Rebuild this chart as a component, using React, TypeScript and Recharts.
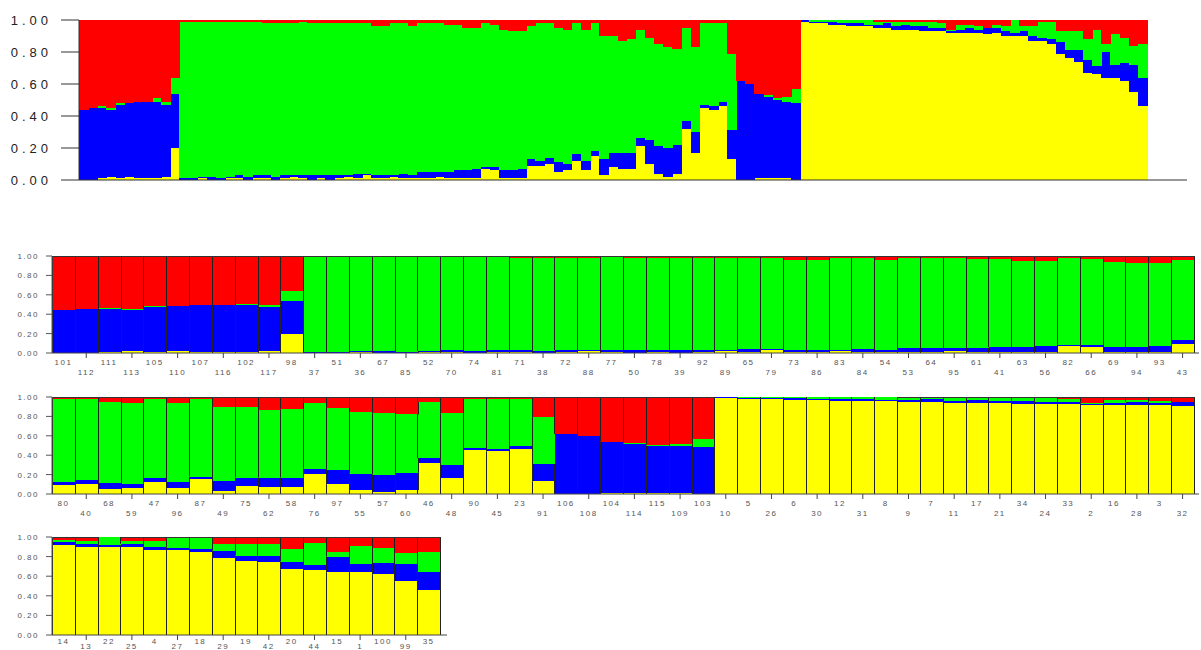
import React from "react";
import { BarChart, Bar, XAxis, YAxis } from "recharts";

// Individual labels, in plot order (top panel shows all, lower panels split 50 / 50 / 17)
const labels = [
  101, 112, 111, 113, 105, 110, 107, 116, 102, 117, 98, 37, 51, 36, 67, 85, 52, 70, 74, 81,
  71, 38, 72, 88, 77, 50, 78, 39, 92, 89, 65, 79, 73, 86, 83, 84, 54, 53, 64, 95,
  61, 41, 63, 56, 82, 66, 69, 94, 93, 43,
  80, 40, 68, 59, 47, 96, 87, 49, 75, 62, 58, 76, 97, 55, 57, 60, 46, 48, 90, 45,
  23, 91, 106, 108, 104, 114, 115, 109, 103, 10, 5, 26, 6, 30, 12, 31, 8, 9, 7, 11,
  17, 21, 34, 24, 33, 2, 16, 28, 3, 32,
  14, 13, 22, 25, 4, 27, 18, 29, 19, 42, 20, 44, 15, 1, 100, 99, 35,
];

// Cluster membership proportions (bottom to top: yellow, blue, green, red)
const yellow = [
  0, 0, 0.01, 0.02, 0.01, 0.02, 0.01, 0.01, 0.01, 0.02, 0.2, 0, 0, 0.01, 0, 0, 0.01, 0.01, 0, 0.01,
  0.01, 0, 0.01, 0.02, 0.01, 0, 0.01, 0, 0.01, 0.02, 0.01, 0.03, 0.01, 0.01, 0.02, 0.01, 0.01, 0.01, 0.01, 0.02,
  0.01, 0.01, 0.01, 0.01, 0.07, 0.06, 0.01, 0.01, 0.01, 0.09,
  0.09, 0.1, 0.05, 0.06, 0.12, 0.06, 0.15, 0.03, 0.08, 0.07, 0.07, 0.21, 0.1, 0.04, 0.02, 0.04, 0.32, 0.17, 0.45, 0.44,
  0.46, 0.13, 0, 0, 0.01, 0.01, 0.01, 0.01, 0, 0.99, 0.98, 0.98, 0.97, 0.97, 0.96, 0.96, 0.96, 0.95, 0.95, 0.94,
  0.94, 0.94, 0.93, 0.93, 0.93, 0.92, 0.92, 0.92, 0.92, 0.91,
  0.92, 0.9, 0.9, 0.9, 0.87, 0.87, 0.85, 0.79, 0.76, 0.74, 0.67, 0.66, 0.64, 0.64, 0.62, 0.55, 0.46,
];
const blue = [
  0.44, 0.45, 0.44, 0.42, 0.46, 0.46, 0.48, 0.48, 0.48, 0.45, 0.34, 0.01, 0.01, 0.01, 0.02, 0.01, 0.01, 0.02, 0.02, 0.02,
  0.02, 0.02, 0.02, 0.01, 0.02, 0.03, 0.02, 0.03, 0.02, 0.01, 0.03, 0.01, 0.02, 0.02, 0.01, 0.03, 0.02, 0.04, 0.04, 0.03,
  0.04, 0.05, 0.05, 0.06, 0.01, 0.02, 0.05, 0.05, 0.06, 0.04,
  0.03, 0.04, 0.06, 0.04, 0.04, 0.06, 0.03, 0.1, 0.09, 0.1, 0.1, 0.05, 0.15, 0.17, 0.18, 0.18, 0.05, 0.13, 0.02, 0.02,
  0.03, 0.18, 0.62, 0.6, 0.53, 0.51, 0.49, 0.48, 0.48, 0.01, 0.01, 0.01, 0.02, 0.01, 0.02, 0.02, 0.01, 0.02, 0.03, 0.02,
  0.03, 0.02, 0.03, 0.02, 0.02, 0.01, 0.02, 0.03, 0.02, 0.04,
  0.03, 0.03, 0.02, 0.03, 0.03, 0.02, 0.03, 0.07, 0.05, 0.07, 0.08, 0.05, 0.16, 0.08, 0.11, 0.17, 0.18,
];
const green = [
  0, 0, 0.01, 0.01, 0.01, 0, 0, 0, 0.02, 0.02, 0.1, 0.98, 0.98, 0.97, 0.97, 0.98, 0.97, 0.96, 0.97, 0.96,
  0.95, 0.96, 0.95, 0.95, 0.96, 0.95, 0.95, 0.95, 0.95, 0.95, 0.94, 0.94, 0.93, 0.93, 0.95, 0.94, 0.93, 0.93, 0.93, 0.93,
  0.92, 0.91, 0.89, 0.88, 0.9, 0.89, 0.88, 0.87, 0.86, 0.83,
  0.86, 0.84, 0.84, 0.84, 0.82, 0.82, 0.8, 0.77, 0.73, 0.7, 0.71, 0.68, 0.64, 0.64, 0.63, 0.6, 0.58, 0.53, 0.51, 0.52,
  0.49, 0.48, 0, 0, 0, 0.01, 0.01, 0.03, 0.09, 0, 0.01, 0.01, 0.01, 0.02, 0.02, 0.02, 0.03, 0.02, 0.01, 0.03,
  0.02, 0.03, 0.03, 0.04, 0.03, 0.01, 0.03, 0.02, 0.02, 0,
  0.02, 0.03, 0.08, 0.03, 0.06, 0.1, 0.11, 0.07, 0.12, 0.12, 0.13, 0.23, 0.05, 0.19, 0.16, 0.12, 0.21,
];
const red = [
  0.56, 0.55, 0.54, 0.55, 0.52, 0.52, 0.51, 0.51, 0.49, 0.51, 0.36, 0.01, 0.01, 0.01, 0.01, 0.01, 0.01, 0.01, 0.01, 0.01,
  0.02, 0.02, 0.02, 0.02, 0.01, 0.02, 0.02, 0.02, 0.02, 0.02, 0.02, 0.02, 0.04, 0.04, 0.02, 0.02, 0.04, 0.02, 0.02, 0.02,
  0.03, 0.03, 0.05, 0.05, 0.02, 0.03, 0.06, 0.07, 0.07, 0.04,
  0.02, 0.02, 0.05, 0.06, 0.02, 0.06, 0.02, 0.1, 0.1, 0.13, 0.12, 0.06, 0.11, 0.15, 0.17, 0.18, 0.05, 0.17, 0.02, 0.02,
  0.02, 0.21, 0.38, 0.4, 0.46, 0.47, 0.49, 0.48, 0.43, 0, 0, 0, 0, 0, 0, 0, 0, 0.01, 0.01, 0.01,
  0.01, 0.01, 0.01, 0.01, 0.02, 0.06, 0.03, 0.03, 0.04, 0.05,
  0.03, 0.04, 0, 0.04, 0.04, 0.01, 0.01, 0.07, 0.07, 0.07, 0.12, 0.06, 0.15, 0.09, 0.11, 0.16, 0.15,
];

const yTicks = [0, 0.2, 0.4, 0.6, 0.8, 1];

const COLORS = { yellow: "#FFFF00", blue: "#0000FF", green: "#00FF00", red: "#FF0000" };
const FONT = "'Liberation Sans', Arial, sans-serif";

const rows = labels.map((id, i) => ({
  id: String(id),
  yellow: yellow[i],
  blue: blue[i],
  green: green[i],
  red: red[i],
}));

const row1 = rows.slice(0, 50);
const row2 = rows.slice(50, 100);
const row3 = rows.slice(100);

// Recharts truncates bar width to whole pixels; widen each rect slightly so that
// neighbouring bars of the band scale meet without white seams
const snap = (x: number, y: number, w: number, h: number, extra: number) => {
  const x0 = Math.round(x);
  const x1 = Math.round(x + w + extra);
  const y0 = Math.round(y);
  const y1 = Math.round(y + h);
  return { x: x0, y: y0, w: x1 - x0, h: y1 - y0 };
};

const PlainShape = (props: any) => {
  const { x, y, width, height, fill } = props;
  if (!(height > 0)) return <g />;
  const r = snap(x, y, width, height, 0.7);
  if (r.h <= 0) return <g />;
  return <rect x={r.x} y={r.y} width={r.w} height={r.h} fill={fill} shapeRendering="crispEdges" />;
};

const makeOutlined = (top: boolean) => (props: any) => {
  const { x, y, width, height, fill } = props;
  if (!(height > 0)) return <g />;
  const r = snap(x, y, width, height, 0.9);
  return (
    <g>
      {r.h > 0 && <rect x={r.x} y={r.y} width={r.w} height={r.h} fill={fill} shapeRendering="crispEdges" />}
      <line x1={r.x + 0.5} x2={r.x + 0.5} y1={y} y2={y + height} stroke="#222" strokeWidth={1} />
      <line x1={r.x + r.w - 0.5} x2={r.x + r.w - 0.5} y1={y} y2={y + height} stroke="#222" strokeWidth={1} />
      {top && <line x1={r.x} x2={r.x + r.w} y1={r.y + 0.5} y2={r.y + 0.5} stroke="#333" strokeWidth={1} />}
    </g>
  );
};

const TopYTick = (props: any) => {
  const { x, y, payload } = props;
  return (
    <text x={x} y={y} dy={5} textAnchor="end" fontSize={13} fontFamily={FONT} letterSpacing={4} fill="#222">
      {Number(payload.value).toFixed(2)}
    </text>
  );
};

const SmallYTick = (props: any) => {
  const { x, y, payload } = props;
  return (
    <text x={x} y={y} dy={3} textAnchor="end" fontSize={8} fontFamily={FONT} letterSpacing={1.5} fill="#555">
      {Number(payload.value).toFixed(2)}
    </text>
  );
};

const makeXTick = (upperOff: number, lowerOff: number) => (props: any) => {
  const { x, y, payload, index } = props;
  const lower = index % 2 === 1;
  return (
    <g>
      {lower && <line x1={x} x2={x} y1={y} y2={y + 5} stroke="#444" strokeWidth={1} />}
      <text x={x} y={y + (lower ? lowerOff : upperOff)} textAnchor="middle" fontSize={8} fontFamily={FONT} letterSpacing={1.5} fill="#555">
        {payload.value}
      </text>
    </g>
  );
};

const SERIES: Array<keyof typeof COLORS> = ["yellow", "blue", "green", "red"];

function LowerPanel({
  data, width, top, plotH, padRight, upperOff, lowerOff,
}: { data: any[]; width: number; top: number; plotH: number; padRight: number; upperOff: number; lowerOff: number }) {
  const XTick = makeXTick(upperOff, lowerOff);
  return (
    <div style={{ position: "absolute", left: 0, top }}>
      <BarChart
        width={width}
        height={5 + plotH + 30}
        data={data}
        margin={{ top: 5, right: 2, bottom: 0, left: 0 }}
        barCategoryGap={0}
        barGap={0}
      >
        <XAxis
          dataKey="id"
          interval={0}
          height={30}
          tickSize={0}
          tickMargin={0}
          tickLine={false}
          axisLine={{ stroke: "#444", strokeWidth: 1 }}
          padding={{ left: 0, right: padRight }}
          tick={<XTick />}
        />
        <YAxis
          width={52}
          domain={[0, 1]}
          ticks={yTicks}
          interval={0}
          tickSize={6}
          tickMargin={7}
          axisLine={{ stroke: "#555" }}
          tickLine={{ stroke: "#555" }}
          tick={<SmallYTick />}
        />
        {SERIES.map((k) => (
          <Bar key={k} dataKey={k} stackId="a" fill={COLORS[k]} isAnimationActive={false} shape={makeOutlined(k === "red")} />
        ))}
      </BarChart>
    </div>
  );
}

export default function App() {
  return (
    <div style={{ position: "absolute", left: 0, top: 0, width: 1201, height: 650, background: "#fff", overflow: "hidden" }}>
      <div style={{ position: "absolute", left: 0, top: 0 }}>
        <BarChart
          width={1201}
          height={200}
          data={rows}
          margin={{ top: 20, right: 14, bottom: 19, left: 0 }}
          barCategoryGap={0}
          barGap={0}
        >
          <XAxis
            dataKey="id"
            height={1}
            tick={false}
            tickLine={false}
            axisLine={{ stroke: "#333", strokeWidth: 1 }}
            padding={{ left: 0, right: 40 }}
          />
          <YAxis
            width={79}
            domain={[0, 1]}
            ticks={yTicks}
            interval={0}
            tickSize={18}
            tickMargin={9}
            axisLine={{ stroke: "#333" }}
            tickLine={{ stroke: "#333" }}
            tick={<TopYTick />}
          />
          {SERIES.map((k) => (
            <Bar key={k} dataKey={k} stackId="a" fill={COLORS[k]} isAnimationActive={false} shape={PlainShape} />
          ))}
        </BarChart>
      </div>
      <LowerPanel data={row1} width={1201} top={251} plotH={97} padRight={5} upperOff={12} lowerOff={22} />
      <LowerPanel data={row2} width={1201} top={392} plotH={97} padRight={5} upperOff={12} lowerOff={22} />
      <LowerPanel data={row3} width={449} top={532} plotH={98} padRight={7} upperOff={9} lowerOff={14} />
    </div>
  );
}
